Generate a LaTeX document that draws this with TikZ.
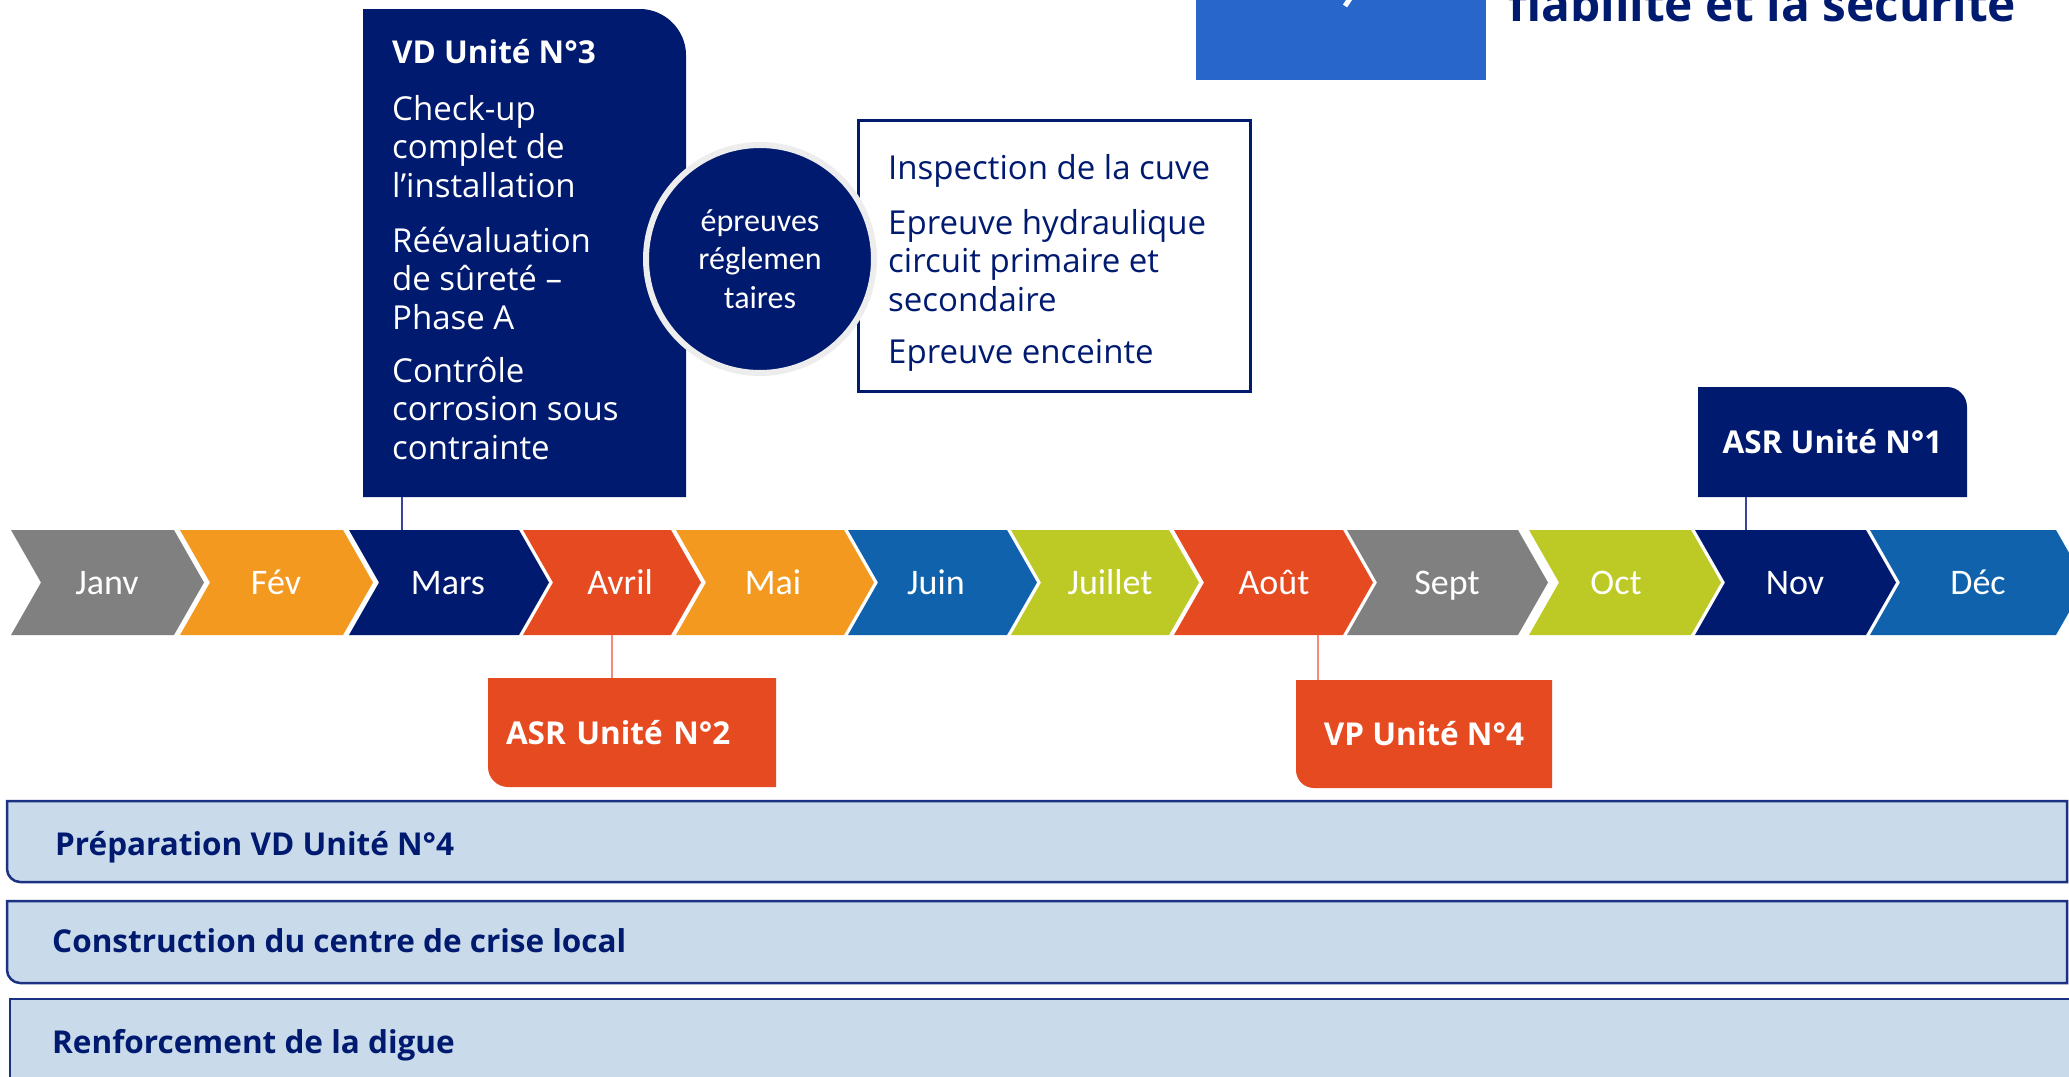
\documentclass[tikz,border=0pt]{standalone}
\usepackage{fontspec}
\setmainfont{Open Sans}
\newfontfamily\calibri{Carlito}
\usetikzlibrary{calc}

\definecolor{navy}{HTML}{001A70}
\definecolor{edfblue}{HTML}{2866CC}
\definecolor{orangec}{HTML}{F39920}
\definecolor{redc}{HTML}{E64A21}
\definecolor{limec}{HTML}{BDC924}
\definecolor{bluec}{HTML}{1062AC}
\definecolor{grayc}{HTML}{808080}
\definecolor{barfill}{HTML}{C9DAEA}
\definecolor{barline}{HTML}{1B3182}
\definecolor{ringgray}{HTML}{EDEDED}
\definecolor{salmon}{HTML}{F28B7C}
\definecolor{navylink}{HTML}{34479A}

\begin{document}
\begin{tikzpicture}[x=1pt, y=-1pt,
    month/.style={text=white, font=\calibri\fontsize{36}{40}\selectfont,
        inner sep=0pt, text height=23pt, text depth=0pt, minimum height=105pt},
    tag/.style={text=white, font=\bfseries\fontsize{31.5}{38}\selectfont,
        inner sep=0pt, text height=23pt, text depth=0pt},
    vdtext/.style={text=white, anchor=base west, inner sep=0pt, align=left,
        font=\fontsize{33}{38.5}\selectfont},
    vdlines/.style={vdtext, anchor=north west,
        execute at begin node={\rule{0pt}{30pt}}},
    insptext/.style={vdtext, text=navy},
    insplines/.style={vdlines, text=navy},
    barbox/.style={fill=barfill, draw=barline, line width=2.5pt},
    bartext/.style={text=navy, anchor=base west, inner sep=0pt,
        font=\bfseries\fontsize{31.5}{38}\selectfont},
    navyline/.style={draw=navylink, line width=2pt},
    redline/.style={draw=salmon, line width=2pt}]

    \useasboundingbox (0,0) rectangle (2069,1076);

    %% Title (cut at the top)
    \fill[edfblue] (1196,-5) rectangle (1486,80);
    \draw[white, line width=5pt] (1351,-3) -- (1345,6);
    \node[anchor=base west, inner sep=0pt, text=navy, font=\bfseries\fontsize{47.8}{56}\selectfont] (fiab) at (1508,21) {fiabilité et la sécurité};

    %% VD Unite 3
    \fill[navy] (363,497) -- (363,9) -- (640,9) .. controls (665,9) and (686,30) .. (686,55) -- (686,497) -- cycle;
    \node[minimum width=323pt, minimum height=488pt, inner sep=0pt] (vd) at (524.5,253) {};
    \node[vdtext, font=\bfseries\fontsize{31.5}{38}\selectfont] (vdtitle) at (392,63) {VD Unité N°3};
    % first baseline about 30pt below the top
    \node[vdlines] (vdcheck) at (392,95) {Check-up\\complet de\\l’installation};
    \node[vdlines] (vdreeval) at (392,227) {Réévaluation\\de sûreté –\\Phase A};
    \node[vdlines] (vdcorr) at (392,357) {Contrôle\\corrosion sous\\contrainte};

    %% Epreuves
    \node[draw=navy, line width=3pt, minimum width=392pt, minimum height=271pt, inner sep=0pt] (insp) at (1054,255.5) {};
    \node[insptext] (cuve) at (888,179) {Inspection de la cuve};
    \node[insplines] (hydro) at (888,209) {Epreuve hydraulique\\circuit primaire et\\secondaire};
    \node[insptext] (enceinte) at (888,363) {Epreuve enceinte};
    \node[circle, fill=navy, draw=ringgray, line width=6pt, minimum size=228pt, inner sep=0pt,
        text=white, align=center, font=\calibri\fontsize{32}{38.5}\selectfont] (epr) at (760,259) {épreuves\\réglemen\\taires};

    %% Months
    \fill[grayc] (11,530) -- (174,530) -- (204,582.5) -- (174,635) -- (11,635) -- (41,582.5) -- cycle;
    \fill[orangec] (180,530) -- (343,530) -- (373,582.5) -- (343,635) -- (180,635) -- (210,582.5) -- cycle;
    \fill[navy] (349,530) -- (519,530) -- (549,582.5) -- (519,635) -- (349,635) -- (379,582.5) -- cycle;
    \fill[redc] (523,530) -- (671,530) -- (701,582.5) -- (671,635) -- (523,635) -- (553,582.5) -- cycle;
    \fill[orangec] (676,530) -- (844,530) -- (874,582.5) -- (844,635) -- (676,635) -- (706,582.5) -- cycle;
    \fill[bluec] (848,530) -- (1007,530) -- (1037,582.5) -- (1007,635) -- (848,635) -- (878,582.5) -- cycle;
    \fill[limec] (1011,530) -- (1169,530) -- (1199,582.5) -- (1169,635) -- (1011,635) -- (1041,582.5) -- cycle;
    \fill[redc] (1174,530) -- (1343,530) -- (1373,582.5) -- (1343,635) -- (1174,635) -- (1204,582.5) -- cycle;
    \fill[grayc] (1347,530) -- (1518,530) -- (1548,582.5) -- (1518,635) -- (1347,635) -- (1377,582.5) -- cycle;
    \fill[limec] (1529,530) -- (1691,530) -- (1721,582.5) -- (1691,635) -- (1529,635) -- (1559,582.5) -- cycle;
    \fill[navy] (1695,530) -- (1866,530) -- (1896,582.5) -- (1866,635) -- (1695,635) -- (1725,582.5) -- cycle;
    \fill[bluec] (1870,530) -- (2056,530) -- (2086,582.5) -- (2056,635) -- (1870,635) -- (1900,582.5) -- cycle;

    \node[month] (janv) at (107,582.5) {Janv};
    \node[month] (fev) at (276,582.5) {Fév};
    \node[month] (mars) at (448,582.5) {Mars};
    \node[month] (avril) at (620,582.5) {Avril};
    \node[month] (mai) at (773,582.5) {Mai};
    \node[month] (juin) at (936,582.5) {Juin};
    \node[month] (juil) at (1110,582.5) {Juillet};
    \node[month] (aout) at (1274,582.5) {Août};
    \node[month] (sept) at (1447,582.5) {Sept};
    \node[month] (oct) at (1616,582.5) {Oct};
    \node[month] (nov) at (1795,582.5) {Nov};
    \node[month] (dec) at (1978,582.5) {Déc};

    %% Milestones
    % ASR Unite 1
    \fill[navy] (1698,497) -- (1698,387) -- (1947,387) .. controls (1958,387) and (1967,396) .. (1967,407) -- (1967,497) -- cycle;
    \node[tag, minimum width=269pt, minimum height=110pt] (asr1) at (1832.5,442) {ASR Unité N°1};

    % ASR Unite 2
    \fill[redc] (488,678) -- (776,678) -- (776,787) -- (508,787) .. controls (497,787) and (488,778) .. (488,767) -- cycle;
    \node[tag, minimum width=288pt, minimum height=109pt, text width=252pt, align=left] (asr2) at (632,732.5) {ASR Unité N°2};

    % VP Unite 4
    \fill[redc] (1296,680) -- (1552,680) -- (1552,788) -- (1314,788) .. controls (1304,788) and (1296,780) .. (1296,770) -- cycle;
    \node[tag, minimum width=256pt, minimum height=108pt] (vp4) at (1424,734) {VP Unité N°4};

    % Links to the months
    \draw[navyline] ($(vd.south west)+(39,0)$) coordinate (vdfoot) -- (vdfoot |- mars.north);
    \draw[navyline] ($(asr1.south west)+(48,0)$) coordinate (asrfoot) -- (asrfoot |- nov.north);
    \draw[redline] ($(asr2.north west)+(124,0)$) coordinate (asrtop) -- (asrtop |- avril.south);
    \draw[redline] ($(vp4.north west)+(22,0)$) coordinate (vptop) -- (vptop |- aout.south);

    %% Projects
    \filldraw[barbox] (2067,801) -- (7,801) -- (7,869) .. controls (7,876) and (13,882) .. (20,882) -- (2067,882) -- cycle;
    \node[bartext] (prep) at (55,855) {Préparation VD Unité N°4};

    \filldraw[barbox] (2067,901) -- (7,901) -- (7,970) .. controls (7,977) and (13,983) .. (20,983) -- (2067,983) -- cycle;
    \node[bartext] (crise) at (52,952) {Construction du centre de crise local};

    \filldraw[barbox] (2085,999) -- (10,999) -- (10,1095) -- (2085,1095) -- cycle;
    \node[bartext] (digue) at (52,1053) {Renforcement de la digue};

\end{tikzpicture}
\end{document}
